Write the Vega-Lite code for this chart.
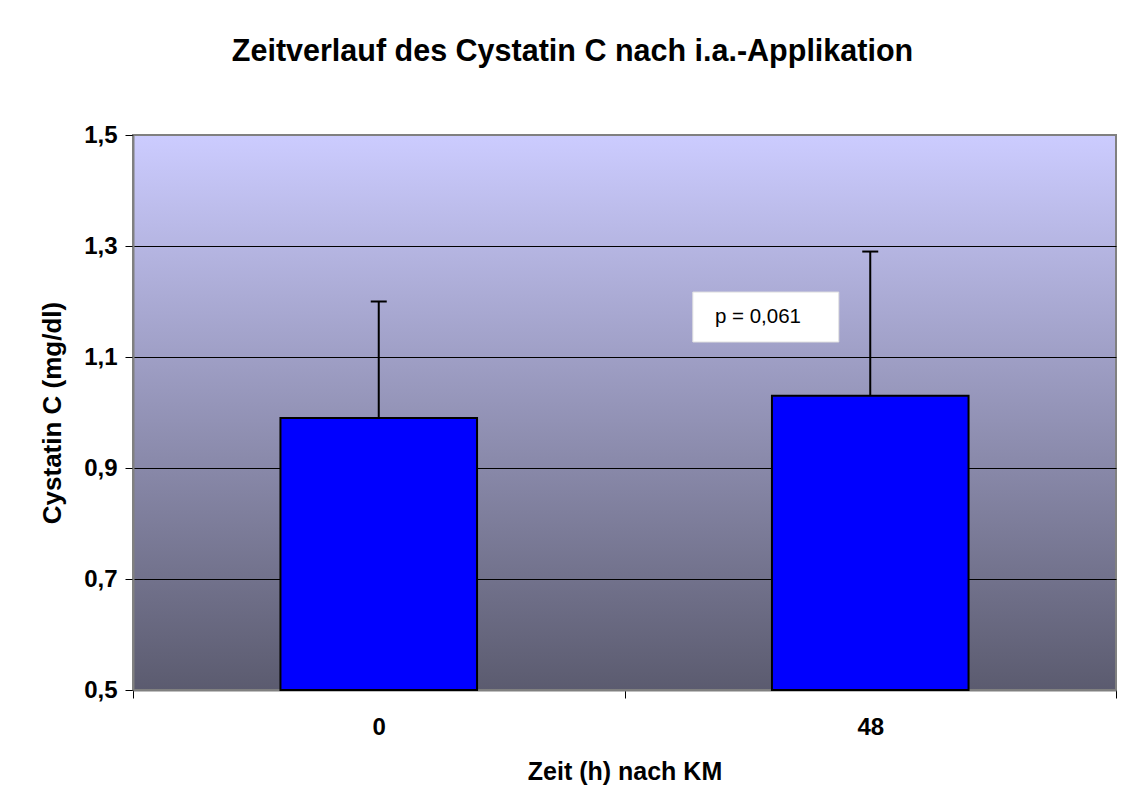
{
  "$schema": "https://vega.github.io/schema/vega-lite/v6.json",
  "width": 983,
  "height": 555,
  "autosize": {"type": "none"},
  "padding": {"left": 133, "top": 135, "right": 10, "bottom": 121},
  "background": "white",
  "config": {"font": "Liberation Sans"},
  "title": {
    "text": "Zeitverlauf des Cystatin C nach i.a.-Applikation",
    "font": "Liberation Sans",
    "fontSize": 30.5,
    "fontWeight": "bold",
    "color": "black",
    "anchor": "middle",
    "dx": -52,
    "offset": 56
  },
  "view": {
    "fill": {
      "gradient": "linear",
      "x1": 0, "y1": 0, "x2": 0, "y2": 1,
      "stops": [
        {"offset": 0, "color": "#CCCCFF"},
        {"offset": 1, "color": "#5B5B6F"}
      ]
    },
    "stroke": "#808080",
    "strokeWidth": 2
  },
  "datasets": {
    "bars": [
      {"Zeit": "0", "mean": 0.99, "upper": 1.2},
      {"Zeit": "48", "mean": 1.03, "upper": 1.29}
    ],
    "note": [
      {"x1": 1.139, "x2": 1.436, "y1": 1.127, "y2": 1.217, "tx": 1.184, "ty": 1.172, "label": "p = 0,061"}
    ]
  },
  "layer": [
    {
      "data": {"name": "bars"},
      "layer": [
        {
          "mark": {"type": "bar", "width": {"band": 0.4}, "fill": "#0000FF", "stroke": "black", "strokeWidth": 2},
          "encoding": {
            "x": {
              "field": "Zeit", "type": "nominal", "sort": null,
              "scale": {"paddingInner": 0, "paddingOuter": 0},
              "title": "Zeit (h) nach KM",
              "axis": {
                "tickBand": "extent",
                "labelAngle": 0,
                "labelFont": "Liberation Sans",
                "labelFontWeight": "bold",
                "labelFontSize": 24,
                "labelColor": "black",
                "labelPadding": 17,
                "tickSize": 8,
                "tickColor": "black",
                "domainColor": "#808080",
                "domainWidth": 2,
                "grid": false,
                "titleFont": "Liberation Sans",
                "titleFontWeight": "bold",
                "titleFontSize": 25,
                "titleColor": "black",
                "titlePadding": 20
              }
            },
            "y": {
              "field": "mean", "type": "quantitative",
              "scale": {"domain": [0.5, 1.5], "zero": false, "nice": false},
              "title": "Cystatin C (mg/dl)",
              "axis": {
                "values": [0.5, 0.7, 0.9, 1.1, 1.3, 1.5],
                "labelExpr": "replace(format(datum.value, '.1f'), '.', ',')",
                "labelFont": "Liberation Sans",
                "labelFontWeight": "bold",
                "labelFontSize": 24,
                "labelColor": "black",
                "labelPadding": 8,
                "tickSize": 8,
                "tickColor": "black",
                "domainColor": "#808080",
                "domainWidth": 2,
                "grid": true,
                "gridColor": {"condition": {"test": "datum.value < 0.6 || datum.value > 1.4", "value": "transparent"}, "value": "black"},
                "gridWidth": 1,
                "gridOpacity": 1,
                "titleFont": "Liberation Sans",
                "titleFontWeight": "bold",
                "titleFontSize": 26,
                "titleColor": "black",
                "titlePadding": 18
              }
            },
            "y2": {"datum": 0.5}
          }
        },
        {
          "mark": {"type": "rule", "stroke": "black", "strokeWidth": 2},
          "encoding": {
            "x": {"field": "Zeit", "type": "nominal", "sort": null},
            "y": {"field": "mean", "type": "quantitative", "title": "Cystatin C (mg/dl)"},
            "y2": {"field": "upper"}
          }
        },
        {
          "mark": {"type": "tick", "orient": "horizontal", "size": 16, "thickness": 2, "color": "black", "opacity": 1},
          "encoding": {
            "x": {"field": "Zeit", "type": "nominal", "sort": null},
            "y": {"field": "upper", "type": "quantitative", "title": "Cystatin C (mg/dl)"}
          }
        }
      ]
    },
    {
      "data": {"name": "note"},
      "layer": [
        {
          "mark": {"type": "rect", "fill": "white", "stroke": "#E0E0E0", "strokeWidth": 1},
          "encoding": {
            "x": {"field": "x1", "type": "quantitative", "scale": {"domain": [0, 2], "nice": false, "zero": false}, "axis": null},
            "x2": {"field": "x2"},
            "y": {"field": "y1", "type": "quantitative", "title": "Cystatin C (mg/dl)"},
            "y2": {"field": "y2"}
          }
        },
        {
          "mark": {"type": "text", "align": "left", "baseline": "middle", "font": "Liberation Sans", "fontSize": 20.5, "color": "black"},
          "encoding": {
            "x": {"field": "tx", "type": "quantitative", "axis": null},
            "y": {"field": "ty", "type": "quantitative", "title": "Cystatin C (mg/dl)"},
            "text": {"field": "label"}
          }
        }
      ]
    }
  ],
  "resolve": {"scale": {"x": "independent"}, "axis": {"x": "independent"}}
}
